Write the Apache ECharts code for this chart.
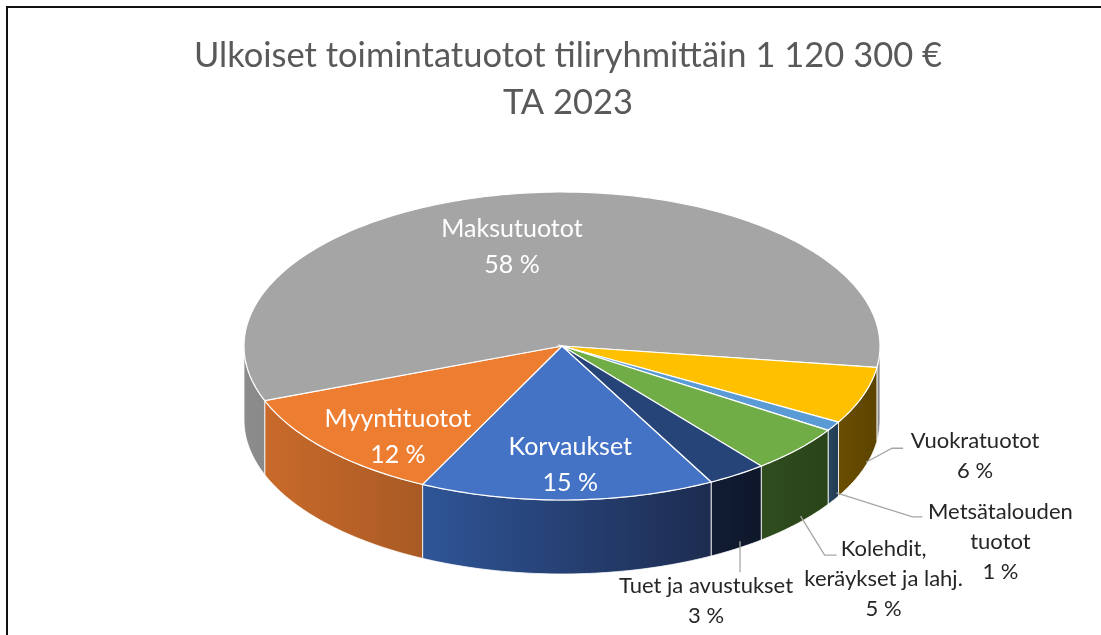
<!DOCTYPE html>
<html>
<head>
<meta charset="utf-8">
<script src="https://cdn.jsdelivr.net/npm/echarts@6/dist/echarts.min.js"></script>
<style>
html, body { margin: 0; padding: 0; background: #fff; }
#chart { width: 1101px; height: 635px; }
</style>
</head>
<body>
<div id="chart"></div>
<script>
// Data
const categories = ['Korvaukset', 'Myyntituotot', 'Maksutuotot', 'Vuokratuotot', 'Metsätalouden\ntuotot', 'Kolehdit,\nkeräykset ja lahj.', 'Tuet ja avustukset']
const shares = [15, 12, 58, 6, 1, 5, 3]
const titleText = 'Ulkoiset toimintatuotot tiliryhmittäin 1 120 300 €\nTA 2023'

// Colours (Office palette) and darker side walls
const topColors = ['#4472c4', '#ed7d31', '#a5a5a5', '#ffc000', '#5b9bd5', '#70ad47', '#264478']
const sideColors = [
  ['#2f5597', '#1d2c50'],
  ['#c96a2b', '#a95a24'],
  ['#8c8c8c', '#8a8a8a'],
  ['#6a4e00', '#5c4400'],
  ['#2a4660', '#213a50'],
  ['#2f4d1e', '#2a4419'],
  ['#111c33', '#0e172a']
]

// 3D pie geometry (pixels / degrees)
const pie = { cx: 562, cy: 346, rx: 318, ry: 154, depth: 74, start: 298 }

// label placement
const labelLayout = [
  { inside: true, rf: 0.77, dx: 4, dy: 0 },
  { inside: true, rf: 0.75, dx: 12, dy: 13 },
  { inside: true, rf: 0.65, dx: -27, dy: 0 },
  { elbow: [26, -14], end: [37, -14], text: [109, -6] },
  { elbow: [76, 24], end: [86, 24], text: [164, 49] },
  { elbow: [24, 39], end: [36, 39], text: [83, 63] },
  { elbow: [0, 31], end: [0, 31], text: [-34, 60] }
]

const fontFamily = 'Lato, "Open Sans", sans-serif'
const total = shares.reduce((a, b) => a + b, 0)
const cum = []
let acc = 0
shares.forEach(v => { cum.push(acc); acc += v })

const rad = d => d * Math.PI / 180
function pt(deg, k = 1, dz = 0) {
  return [pie.cx + pie.rx * k * Math.cos(rad(deg)), pie.cy - pie.ry * k * Math.sin(rad(deg)) + dz]
}
function arc(a, b, dz) {
  const pts = []
  const n = Math.max(2, Math.ceil(Math.abs(b - a)))
  for (let s = 0; s <= n; s++) pts.push(pt(a + (b - a) * s / n, 1, dz))
  return pts
}

function renderItem(params, api) {
  const i = params.dataIndex
  const v = api.value(0)
  const a0 = pie.start - cum[i] / total * 360
  const a1 = a0 - v / total * 360
  const children = []

  // visible side walls: parts of the arc on the front half
  for (let k = -1; k <= 1; k++) {
    const lo = Math.max(a1, 180 + 360 * k)
    const hi = Math.min(a0, 360 + 360 * k)
    if (hi - lo > 0.01) {
      const topArc = arc(lo, hi, 0)
      const botArc = arc(hi, lo, pie.depth)
      children.push({
        type: 'polygon',
        shape: { points: topArc.concat(botArc) },
        style: {
          fill: {
            type: 'linear', x: 0, y: 0, x2: 1, y2: 0,
            colorStops: [{ offset: 0, color: sideColors[i][0] }, { offset: 1, color: sideColors[i][1] }]
          },
          stroke: 'rgba(255,255,255,0.8)',
          lineWidth: 1
        }
      })
    }
  }

  // top face
  children.push({
    type: 'polygon',
    shape: { points: [[pie.cx, pie.cy]].concat(arc(a0, a1, 0)) },
    style: { fill: topColors[i], stroke: '#fff', lineWidth: 1.2 }
  })

  // label
  const pct = Math.round(v / total * 100) + ' %'
  const lay = labelLayout[i]
  const mid = (a0 + a1) / 2
  if (lay.inside) {
    const p = pt(mid, lay.rf)
    children.push({
      type: 'text',
      x: p[0] + lay.dx,
      y: p[1] + lay.dy,
      style: {
        text: categories[i] + '\n' + pct,
        fill: '#fff', fontSize: 25, fontFamily: fontFamily,
        lineHeight: 36, align: 'center', verticalAlign: 'middle'
      }
    })
  } else {
    const p = pt(mid)
    const s = [p[0] + 3, p[1] + pie.depth * 0.9]
    children.push({
      type: 'polyline',
      shape: {
        points: [s, [s[0] + lay.elbow[0], s[1] + lay.elbow[1]], [s[0] + lay.end[0], s[1] + lay.end[1]]]
      },
      style: { stroke: '#a6a6a6', lineWidth: 1.3, fill: null }
    })
    children.push({
      type: 'text',
      x: s[0] + lay.text[0],
      y: s[1] + lay.text[1],
      style: {
        text: categories[i] + '\n' + pct,
        fill: '#262626', fontSize: 22, fontFamily: fontFamily,
        lineHeight: 30, align: 'center', verticalAlign: 'middle'
      }
    })
  }
  return { type: 'group', children: children }
}

const chart = echarts.init(document.getElementById('chart'))
chart.setOption({
  animation: false,
  backgroundColor: '#fff',
  title: {
    text: titleText,
    left: 563,
    top: 27,
    textAlign: 'center',
    textStyle: { color: '#595959', fontSize: 34.5, fontWeight: 'normal', fontFamily: fontFamily, lineHeight: 47 }
  },
  graphic: [{
    type: 'rect',
    shape: { x: 7, y: 7, width: 1300, height: 800 },
    style: { fill: null, stroke: '#111', lineWidth: 2 },
    silent: true
  }],
  series: [{
    type: 'custom',
    coordinateSystem: 'none',
    silent: true,
    renderItem: renderItem,
    data: shares.map((v, i) => ({ value: [v], name: categories[i] }))
  }]
})
</script>
</body>
</html>
